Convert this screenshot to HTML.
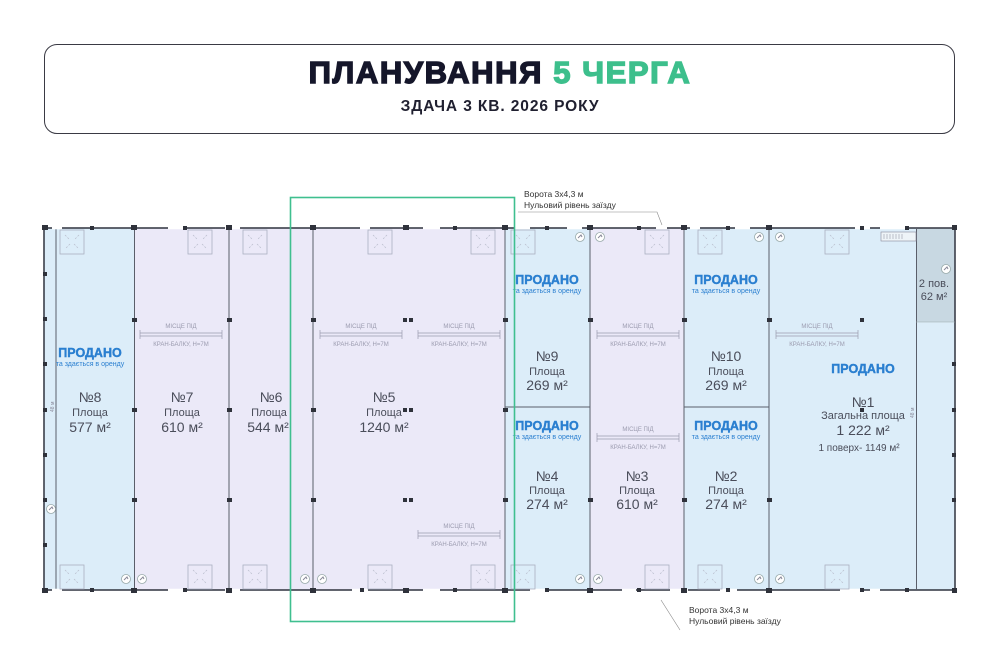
<!DOCTYPE html>
<html><head><meta charset="utf-8"><style>
html,body{margin:0;padding:0;background:#fff;}
body{width:1000px;height:662px;overflow:hidden;position:relative;font-family:"Liberation Sans",sans-serif;}
.hdr{position:absolute;left:44px;top:44px;width:911px;height:90px;border:1px solid #3a3a44;border-radius:13px;box-sizing:border-box;}
.t1{position:absolute;left:0;width:1000px;top:55px;text-align:center;font-weight:900;font-size:31px;letter-spacing:1.6px;color:#15162a;-webkit-text-stroke:1.4px #15162a;}
.t1 span{color:#3dbf8c;-webkit-text-stroke:1.4px #3dbf8c;}
.t2{position:absolute;left:0;width:1000px;top:98px;text-align:center;font-weight:700;font-size:15.5px;color:#202030;letter-spacing:0.9px;}
svg{position:absolute;left:0;top:0;}
</style></head><body>
<div class="hdr"></div>
<div class="t1">ПЛАНУВАННЯ <span>5 ЧЕРГА</span></div>
<div class="t2">ЗДАЧА 3 КВ. 2026 РОКУ</div>
<svg width="1000" height="662" viewBox="0 0 1000 662" font-family="Liberation Sans, sans-serif">
<defs>
<g id="sk"><rect x="0" y="0" width="24" height="24" fill="none" stroke="#aab0c0" stroke-width="0.8"/><path d="M5 5L10 10M14 14L19 19M19 5L14 10M10 14L5 19" stroke="#b8bccb" stroke-width="0.7" stroke-dasharray="2 1.5"/></g>
<g id="cr"><text x="41" y="3" font-size="6" fill="#9a9aae" text-anchor="middle">МІСЦЕ ПІД</text><path d="M0 8H82M0 11H82M0 5V14M82 5V14" stroke="#9a9aae" stroke-width="0.7" fill="none"/><text x="41" y="21" font-size="6" fill="#9a9aae" text-anchor="middle">КРАН-БАЛКУ, Н=7М</text></g>
<g id="tap"><circle cx="0" cy="0" r="4.5" fill="#fff" stroke="#9aa" stroke-width="0.8"/><path d="M-2 1L1 -2L2 0" stroke="#889" stroke-width="1" fill="none"/></g>
</defs>
<rect x="44" y="228" width="91" height="362" fill="#dcedf9"/>
<rect x="135" y="228" width="370" height="362" fill="#ebe9f8"/>
<rect x="505" y="228" width="85" height="362" fill="#dcedf9"/>
<rect x="590" y="228" width="94" height="362" fill="#ebe9f8"/>
<rect x="684" y="228" width="271" height="362" fill="#dcedf9"/>
<rect x="916" y="228" width="39" height="94" fill="#c8d8e2"/>
<rect x="44" y="228" width="911" height="362" fill="none" stroke="#3b3f4a" stroke-width="1.6"/>
<g stroke="#5a5e6a" stroke-width="1" fill="none">
<path d="M56 228V590M134.5 228V590M229 228V590M313 228V590M505 228V590M590 228V590M684 228V590M769 228V590M916.5 228V590"/>
<path d="M505 407H590M684 407H769"/>
<path d="M916 322H955" stroke="#9aa" stroke-width="0.6"/>
</g>
<g stroke="#fff" stroke-width="2.5">
<path d="M52 228H62M168 228H186M225 228H240M360 228H370M423 228H440M515 228H530M567 228H582M656 228H667M690 228H700M735 228H750M855 228H870M880 228H905"/>
<path d="M52 590H62M168 590H186M225 590H240M352 590H368M423 590H440M530 590H545M622 590H636M670 590H688M720 590H737M840 590H860M870 590H880"/>
</g>
<g fill="#2f323b">
<rect x="42" y="225" width="6" height="5"/><rect x="131" y="225" width="6" height="5"/><rect x="226" y="225" width="6" height="5"/><rect x="310" y="225" width="6" height="5"/><rect x="403" y="225" width="6" height="5"/><rect x="502" y="225" width="6" height="5"/><rect x="587" y="225" width="6" height="5"/><rect x="681" y="225" width="6" height="5"/><rect x="766" y="225" width="6" height="5"/><rect x="952" y="225" width="5" height="5"/><rect x="90" y="226" width="4" height="4"/><rect x="183" y="226" width="4" height="4"/><rect x="453" y="226" width="4" height="4"/><rect x="545" y="226" width="4" height="4"/><rect x="637" y="226" width="4" height="4"/><rect x="726" y="226" width="4" height="4"/><rect x="860" y="226" width="4" height="4"/><rect x="905" y="226" width="4" height="4"/>
<rect x="42" y="588" width="6" height="5"/><rect x="131" y="588" width="6" height="5"/><rect x="226" y="588" width="6" height="5"/><rect x="310" y="588" width="6" height="5"/><rect x="403" y="588" width="6" height="5"/><rect x="502" y="588" width="6" height="5"/><rect x="587" y="588" width="6" height="5"/><rect x="681" y="588" width="6" height="5"/><rect x="766" y="588" width="6" height="5"/><rect x="952" y="588" width="5" height="5"/><rect x="90" y="588" width="4" height="4"/><rect x="183" y="588" width="4" height="4"/><rect x="360" y="588" width="4" height="4"/><rect x="453" y="588" width="4" height="4"/><rect x="545" y="588" width="4" height="4"/><rect x="637" y="588" width="4" height="4"/><rect x="726" y="588" width="4" height="4"/><rect x="860" y="588" width="4" height="4"/><rect x="905" y="588" width="4" height="4"/>
<rect x="43" y="272" width="4" height="4"/><rect x="43" y="317" width="4" height="4"/><rect x="43" y="362" width="4" height="4"/><rect x="43" y="408" width="4" height="4"/><rect x="43" y="453" width="4" height="4"/><rect x="43" y="498" width="4" height="4"/><rect x="43" y="543" width="4" height="4"/>
<rect x="132" y="318" width="5" height="4"/><rect x="132" y="408" width="5" height="4"/><rect x="132" y="498" width="5" height="4"/><rect x="227" y="318" width="5" height="4"/><rect x="227" y="408" width="5" height="4"/><rect x="227" y="498" width="5" height="4"/><rect x="311" y="318" width="5" height="4"/><rect x="311" y="408" width="5" height="4"/><rect x="311" y="498" width="5" height="4"/><rect x="503" y="318" width="5" height="4"/><rect x="503" y="408" width="5" height="4"/><rect x="503" y="498" width="5" height="4"/><rect x="588" y="318" width="5" height="4"/><rect x="588" y="498" width="5" height="4"/><rect x="682" y="318" width="5" height="4"/><rect x="682" y="498" width="5" height="4"/><rect x="767" y="318" width="5" height="4"/><rect x="767" y="498" width="5" height="4"/><rect x="952" y="362" width="4" height="4"/><rect x="952" y="408" width="4" height="4"/><rect x="952" y="453" width="4" height="4"/><rect x="952" y="498" width="4" height="4"/>
<rect x="403" y="318" width="4" height="4"/><rect x="409" y="318" width="4" height="4"/><rect x="403" y="408" width="4" height="4"/><rect x="409" y="408" width="4" height="4"/><rect x="403" y="498" width="4" height="4"/><rect x="409" y="498" width="4" height="4"/><rect x="860" y="318" width="4" height="4"/><rect x="860" y="408" width="4" height="4"/>
</g>
<use href="#sk" x="60" y="230"/><use href="#sk" x="188" y="230"/><use href="#sk" x="243" y="230"/><use href="#sk" x="368" y="230"/><use href="#sk" x="471" y="230"/><use href="#sk" x="511" y="230"/><use href="#sk" x="645" y="230"/><use href="#sk" x="698" y="230"/><use href="#sk" x="825" y="230"/>
<use href="#sk" x="60" y="565"/><use href="#sk" x="188" y="565"/><use href="#sk" x="243" y="565"/><use href="#sk" x="368" y="565"/><use href="#sk" x="471" y="565"/><use href="#sk" x="511" y="565"/><use href="#sk" x="645" y="565"/><use href="#sk" x="698" y="565"/><use href="#sk" x="825" y="565"/>
<rect x="881" y="232" width="35" height="9" fill="#eef4f8" stroke="#889" stroke-width="0.6"/><path d="M884 234V239M887 234V239M890 234V239M893 234V239M896 234V239M899 234V239M902 234V239" stroke="#889" stroke-width="0.5"/>
<use href="#tap" x="580" y="237"/><use href="#tap" x="600" y="237"/><use href="#tap" x="759" y="237"/><use href="#tap" x="780" y="237"/><use href="#tap" x="946" y="269"/>
<use href="#tap" x="126" y="579"/><use href="#tap" x="142" y="579"/><use href="#tap" x="305" y="579"/><use href="#tap" x="322" y="579"/><use href="#tap" x="580" y="579"/><use href="#tap" x="598" y="579"/><use href="#tap" x="759" y="579"/><use href="#tap" x="780" y="579"/><use href="#tap" x="51" y="509"/>
<use href="#cr" x="140" y="325"/><use href="#cr" x="320" y="325"/><use href="#cr" x="418" y="325"/><use href="#cr" x="418" y="525"/><use href="#cr" x="597" y="325"/><use href="#cr" x="597" y="428"/><use href="#cr" x="776" y="325"/>
<g font-size="11" fill="#4a4d5a" text-anchor="middle">
<text x="90" y="402" font-size="14">№8</text><text x="90" y="416">Площа</text><text x="90" y="432" font-size="14">577 м²</text>
<text x="182" y="402" font-size="14">№7</text><text x="182" y="416">Площа</text><text x="182" y="432" font-size="14">610 м²</text>
<text x="271" y="402" font-size="14">№6</text><text x="269" y="416">Площа</text><text x="268" y="432" font-size="14">544 м²</text>
<text x="384" y="402" font-size="14">№5</text><text x="384" y="416">Площа</text><text x="384" y="432" font-size="14">1240 м²</text>
<text x="547" y="361" font-size="14">№9</text><text x="547" y="375">Площа</text><text x="547" y="390" font-size="14">269 м²</text>
<text x="726" y="361" font-size="14">№10</text><text x="726" y="375">Площа</text><text x="726" y="390" font-size="14">269 м²</text>
<text x="547" y="481" font-size="14">№4</text><text x="547" y="494">Площа</text><text x="547" y="509" font-size="14">274 м²</text>
<text x="637" y="481" font-size="14">№3</text><text x="637" y="494">Площа</text><text x="637" y="509" font-size="14">610 м²</text>
<text x="726" y="481" font-size="14">№2</text><text x="726" y="494">Площа</text><text x="726" y="509" font-size="14">274 м²</text>
<text x="863" y="407" font-size="14">№1</text><text x="863" y="419">Загальна площа</text><text x="863" y="435" font-size="14">1 222 м²</text><text x="859" y="451" font-size="10">1 поверх- 1149 м²</text>
<text x="934" y="287">2 пов.</text><text x="934" y="300">62 м²</text>
</g>
<g fill="#2a7fd0" text-anchor="middle" font-weight="900">
<text x="90" y="357" font-size="12.5" stroke="#2a7fd0" stroke-width="0.4">ПРОДАНО</text><text x="90" y="366" font-size="7" font-weight="400">та здається в оренду</text>
<text x="547" y="284" font-size="12.5" stroke="#2a7fd0" stroke-width="0.4">ПРОДАНО</text><text x="547" y="293" font-size="7" font-weight="400">та здається в оренду</text>
<text x="726" y="284" font-size="12.5" stroke="#2a7fd0" stroke-width="0.4">ПРОДАНО</text><text x="726" y="293" font-size="7" font-weight="400">та здається в оренду</text>
<text x="547" y="430" font-size="12.5" stroke="#2a7fd0" stroke-width="0.4">ПРОДАНО</text><text x="547" y="439" font-size="7" font-weight="400">та здається в оренду</text>
<text x="726" y="430" font-size="12.5" stroke="#2a7fd0" stroke-width="0.4">ПРОДАНО</text><text x="726" y="439" font-size="7" font-weight="400">та здається в оренду</text>
<text x="863" y="373" font-size="12.5" stroke="#2a7fd0" stroke-width="0.4">ПРОДАНО</text>
</g>
<text x="0" y="0" font-size="5" fill="#889" transform="translate(54 412) rotate(-90)">48 м</text>
<text x="0" y="0" font-size="5" fill="#889" transform="translate(914 418) rotate(-90)">48 м</text>
<path d="M518 212H657L662 225" stroke="#888" stroke-width="0.6" fill="none"/>
<text x="524" y="197" font-size="8.5" fill="#333">Ворота 3х4,3 м</text>
<text x="524" y="208" font-size="8.5" fill="#333">Нульовий рівень заїзду</text>
<path d="M661 600L680 630" stroke="#888" stroke-width="0.6"/>
<text x="689" y="613" font-size="8.5" fill="#333">Ворота 3х4,3 м</text>
<text x="689" y="624" font-size="8.5" fill="#333">Нульовий рівень заїзду</text>
<rect x="290.5" y="197.5" width="224" height="424" fill="none" stroke="#3fbf8f" stroke-width="1.6"/>
</svg>
</body></html>
